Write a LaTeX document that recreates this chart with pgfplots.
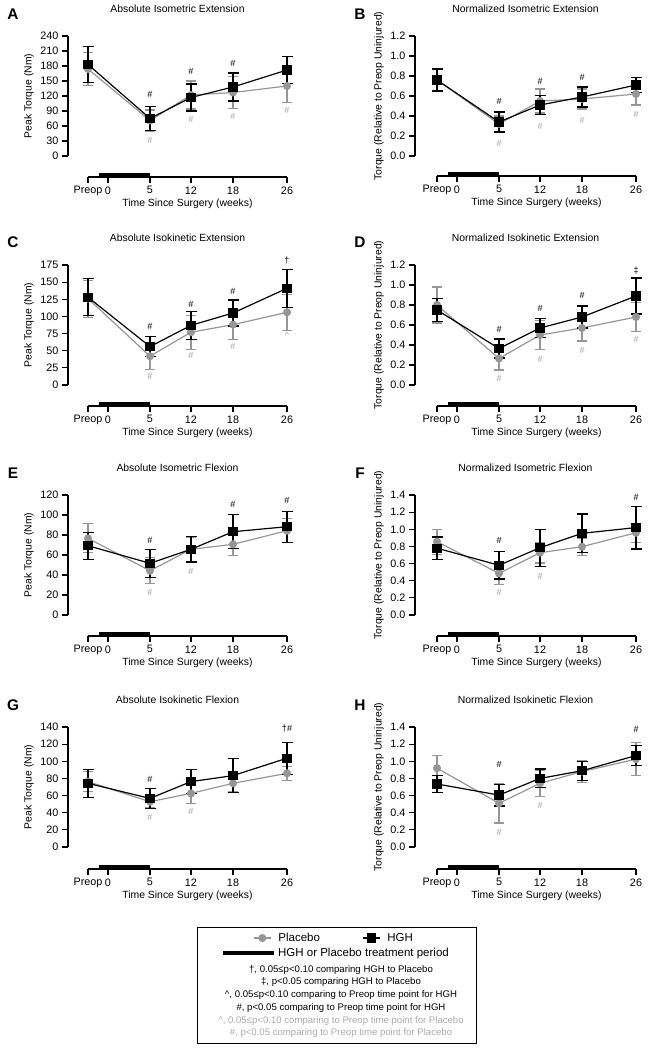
\documentclass[border=0pt]{standalone}
\usepackage{pgfplots}
\pgfplotsset{compat=1.18}
\usepackage{fontspec}
\setmainfont{Liberation Sans}
\definecolor{pbo}{HTML}{969696}
\definecolor{pbotxt}{HTML}{A2A2A2}
\definecolor{lite}{HTML}{ABABAB}

\newcommand{\fnt}{\fontsize{10.4}{12}\selectfont}
\newcommand{\tfnt}{\fontsize{10.8}{12}\selectfont}
\pgfplotsset{
  /pgf/number format/assume math mode=true,
  common/.style={
    scale only axis, height=120pt, ymin=0, clip=false,
    axis x line=none, axis y line*=left,
    tick align=outside, major tick length=6pt,
    every tick/.style={black, line width=1.1pt},
    axis line style={line width=1.1pt},
    tick label style={font=\tfnt},
    label style={font=\fnt},
    title style={font=\fnt, at={(axis description cs:0.5,1.175)}, anchor=center},
  },
  panelL/.style={common, width=219pt, xmin=-20, xmax=199,
    ylabel style={at={(axis description cs:-0.178,0.5)}, anchor=center}},
  panelR/.style={common, width=221pt, xmin=-22, xmax=199,
    ylabel style={at={(axis description cs:-0.163,0.5)}, anchor=center},
    yticklabel style={/pgf/number format/.cd, fixed, fixed zerofill, precision=1}},
  placebo/.style={color=pbo, line width=1.2pt, mark=*, mark size=3.4pt,
    error bars/y dir=both, error bars/y explicit,
    error bars/error bar style={line width=1.1pt},
    error bars/error mark options={rotate=90, mark size=5pt, line width=1.1pt}},
  hgh/.style={color=black, line width=1.2pt, mark=square*, mark size=4pt,
    error bars/y dir=both, error bars/y explicit,
    error bars/error bar style={line width=1.1pt},
    error bars/error mark options={rotate=90, mark size=5.5pt, line width=1.1pt}},
}
\tikzset{
  sigk/.style={font=\fontsize{9}{10}\selectfont, text=black, inner sep=0pt},
  sigg/.style={font=\fontsize{9}{10}\selectfont, text=pbotxt, inner sep=0pt},
  letter/.style={font=\fontsize{15.4}{16}\selectfont\bfseries, inner sep=0pt},
}

% time axis below each panel: #1 = x of Preop, #2 = y of axis line
\newcommand{\timeaxis}[2]{%
  \begin{axis}[scale only axis, width=199pt, height=10pt, at={(#1pt,#2pt)},
    xmin=0, xmax=199, ymin=0, ymax=10, clip=false,
    axis y line=none, axis x line*=bottom,
    axis line style={line width=1.1pt},
    tick align=outside, major tick length=6pt,
    every tick/.style={black, line width=1.1pt},
    xtick={0,20,62,103,145,199}, xticklabels={Preop,0,5,12,18,26},
    tick label style={font=\tfnt}, label style={font=\fnt},
    xlabel={Time Since Surgery (weeks)},
    xlabel style={at={(axis description cs:0.5,0)}, anchor=center, yshift=-27pt}]
    \addplot[black, line width=4.3pt, forget plot] coordinates {(11,2.3) (62,2.3)};
  \end{axis}}

\begin{document}
\begin{tikzpicture}
\useasboundingbox (0,0) rectangle (649pt,-1050pt);

%% A
\node[letter] at (13pt,-14pt) {A};
\begin{axis}[panelL, at={(68pt,-156pt)}, ymax=240, ytick={0,30,...,240},
  ylabel={Peak Torque (Nm)}, title={Absolute Isometric Extension}]
\addplot[placebo] coordinates {(0,174) +- (0,33) (62,71) +- (0,21) (103,122) +- (0,28) (145,127) +- (0,32) (199,140) +- (0,33)};
\addplot[hgh] coordinates {(0,183) +- (0,36) (62,75) +- (0,24) (103,117) +- (0,27) (145,138) +- (0,28) (199,172) +- (0,27)};
\node[sigk] at (axis cs:62,123) {\#};
\node[sigk] at (axis cs:103,169) {\#};
\node[sigk] at (axis cs:145,185) {\#};
\node[sigg] at (axis cs:62,32) {\#};
\node[sigg] at (axis cs:103,74) {\#};
\node[sigg] at (axis cs:145,79) {\#};
\node[sigg] at (axis cs:199,92) {\#};
\end{axis}
\timeaxis{88}{-177}

%% B
\node[letter] at (360pt,-14pt) {B};
\begin{axis}[panelR, at={(415pt,-156pt)}, ymax=1.2, ytick={0,0.2,0.4,0.6,0.8,1.0,1.2},
  ylabel={Torque (Relative to Preop Uninjured)}, title={Normalized Isometric Extension}]
\addplot[placebo] coordinates {(0,0.76) +- (0,0.11) (62,0.32) +- (0,0.08) (103,0.55) +- (0,0.12) (145,0.57) +- (0,0.10) (199,0.62) +- (0,0.11)};
\addplot[hgh] coordinates {(0,0.76) +- (0,0.11) (62,0.34) +- (0,0.10) (103,0.51) +- (0,0.095) (145,0.59) +- (0,0.10) (199,0.71) +- (0,0.075)};
\node[sigk] at (axis cs:62,0.55) {\#};
\node[sigk] at (axis cs:103,0.75) {\#};
\node[sigk] at (axis cs:145,0.79) {\#};
\node[sigg] at (axis cs:62,0.125) {\#};
\node[sigg] at (axis cs:103,0.30) {\#};
\node[sigg] at (axis cs:145,0.36) {\#};
\node[sigg] at (axis cs:199,0.42) {\#};
\end{axis}
\timeaxis{437}{-176}

%% C
\node[letter] at (13pt,-242pt) {C};
\begin{axis}[panelL, at={(68pt,-385pt)}, ymax=175, ytick={0,25,...,175},
  ylabel={Peak Torque (Nm)}, title={Absolute Isokinetic Extension}]
\addplot[placebo] coordinates {(0,126) +- (0,27) (62,42) +- (0,19) (103,77) +- (0,25) (145,88) +- (0,22) (199,106) +- (0,26)};
\addplot[hgh] coordinates {(0,128) +- (0,27) (62,56) +- (0,15) (103,87) +- (0,20) (145,105) +- (0,19) (199,141) +- (0,28)};
\node[sigk] at (axis cs:62,85) {\#};
\node[sigk] at (axis cs:103,118) {\#};
\node[sigk] at (axis cs:145,137) {\#};
\node[sigk] at (axis cs:199,181) {†};
\node[sigg] at (axis cs:62,12) {\#};
\node[sigg] at (axis cs:103,43) {\#};
\node[sigg] at (axis cs:145,56) {\#};
\node[sigg] at (axis cs:199,72) {\textasciicircum};
\end{axis}
\timeaxis{88}{-406}

%% D
\node[letter] at (360pt,-242pt) {D};
\begin{axis}[panelR, at={(415pt,-385pt)}, ymax=1.2, ytick={0,0.2,0.4,0.6,0.8,1.0,1.2},
  ylabel={Torque (Relative to Preop Uninjured)}, title={Normalized Isokinetic Extension}]
\addplot[placebo] coordinates {(0,0.80) +- (0,0.18) (62,0.265) +- (0,0.115) (103,0.50) +- (0,0.145) (145,0.57) +- (0,0.13) (199,0.68) +- (0,0.145)};
\addplot[hgh] coordinates {(0,0.75) +- (0,0.115) (62,0.365) +- (0,0.095) (103,0.57) +- (0,0.095) (145,0.68) +- (0,0.11) (199,0.89) +- (0,0.18)};
\node[sigk] at (axis cs:62,0.56) {\#};
\node[sigk] at (axis cs:103,0.77) {\#};
\node[sigk] at (axis cs:145,0.895) {\#};
\node[sigk] at (axis cs:199,1.14) {‡};
\node[sigg] at (axis cs:62,0.066) {\#};
\node[sigg] at (axis cs:103,0.26) {\#};
\node[sigg] at (axis cs:145,0.35) {\#};
\node[sigg] at (axis cs:199,0.46) {\#};
\end{axis}
\timeaxis{437}{-406}

%% E
\node[letter] at (13pt,-473pt) {E};
\begin{axis}[panelL, at={(68pt,-615pt)}, ymax=120, ytick={0,20,...,120},
  ylabel={Peak Torque (Nm)}, title={Absolute Isometric Flexion}]
\addplot[placebo] coordinates {(0,76.7) +- (0,14.5) (62,44.3) +- (0,13) (103,65.7) +- (0,12) (145,70.7) +- (0,11) (199,84.3) +- (0,12)};
\addplot[hgh] coordinates {(0,69.3) +- (0,13.5) (62,51.7) +- (0,14) (103,65.7) +- (0,12.7) (145,83.3) +- (0,17) (199,88.3) +- (0,15.5)};
\node[sigk] at (axis cs:62,74.3) {\#};
\node[sigk] at (axis cs:145,111) {\#};
\node[sigk] at (axis cs:199,114.3) {\#};
\node[sigg] at (axis cs:62,22.3) {\#};
\node[sigg] at (axis cs:103,44) {\#};
\end{axis}
\timeaxis{88}{-636}

%% F
\node[letter] at (360pt,-473pt) {F};
\begin{axis}[panelR, at={(415pt,-615pt)}, ymax=1.4, ytick={0,0.2,0.4,0.6,0.8,1.0,1.2,1.4},
  ylabel={Torque (Relative to Preop Uninjured)}, title={Normalized Isometric Flexion}]
\addplot[placebo] coordinates {(0,0.855) +- (0,0.145) (62,0.486) +- (0,0.13) (103,0.727) +- (0,0.12) (145,0.797) +- (0,0.10) (199,0.96) +- (0,0.11)};
\addplot[hgh] coordinates {(0,0.78) +- (0,0.13) (62,0.58) +- (0,0.16) (103,0.785) +- (0,0.215) (145,0.953) +- (0,0.225) (199,1.02) +- (0,0.25)};
\node[sigk] at (axis cs:62,0.875) {\#};
\node[sigk] at (axis cs:199,1.37) {\#};
\node[sigg] at (axis cs:62,0.26) {\#};
\node[sigg] at (axis cs:103,0.455) {\#};
\end{axis}
\timeaxis{437}{-636}

%% G
\node[letter] at (13pt,-705pt) {G};
\begin{axis}[panelL, at={(68pt,-847pt)}, ymax=140, ytick={0,20,...,140},
  ylabel={Peak Torque (Nm)}, title={Absolute Isokinetic Flexion}]
\addplot[placebo] coordinates {(0,76.3) +- (0,12) (62,52.8) +- (0,7) (103,62.6) +- (0,12) (145,74.3) +- (0,10) (199,86) +- (0,8)};
\addplot[hgh] coordinates {(0,74.3) +- (0,16.4) (62,56.7) +- (0,11.7) (103,76.3) +- (0,13.7) (145,83.3) +- (0,20) (199,103.6) +- (0,18.6)};
\node[sigk] at (axis cs:62,79) {\#};
\node[sigk] at (axis cs:199,137.7) {†\#};
\node[sigg] at (axis cs:62,34) {\#};
\node[sigg] at (axis cs:103,41) {\#};
\end{axis}
\timeaxis{88}{-869}

%% H
\node[letter] at (360pt,-705pt) {H};
\begin{axis}[panelR, at={(415pt,-847pt)}, ymax=1.4, ytick={0,0.2,0.4,0.6,0.8,1.0,1.2,1.4},
  ylabel={Torque (Relative to Preop Uninjured)}, title={Normalized Isokinetic Flexion}]
\addplot[placebo] coordinates {(0,0.92) +- (0,0.145) (62,0.51) +- (0,0.23) (103,0.743) +- (0,0.15) (145,0.88) +- (0,0.13) (199,1.025) +- (0,0.19)};
\addplot[hgh] coordinates {(0,0.735) +- (0,0.095) (62,0.606) +- (0,0.127) (103,0.80) +- (0,0.11) (145,0.89) +- (0,0.11) (199,1.067) +- (0,0.117)};
\node[sigk] at (axis cs:62,0.958) {\#};
\node[sigk] at (axis cs:199,1.37) {\#};
\node[sigg] at (axis cs:62,0.176) {\#};
\node[sigg] at (axis cs:103,0.49) {\#};
\end{axis}
\timeaxis{437}{-869}

%% legend box
\draw[line width=0.8pt] (197pt,-927pt) rectangle (476pt,-1043pt);
\begin{axis}[hide axis, scale only axis, width=10pt, height=10pt, at={(334pt,-938pt)}, anchor=center,
  xmin=0, xmax=1, ymin=0, ymax=1, legend columns=2,
  legend style={at={(0.5,0.5)}, anchor=center, draw=none, fill=none,
    font=\fontsize{11.5}{13}\selectfont, inner sep=0pt,
    /tikz/every odd column/.append style={column sep=5pt},
    /tikz/every even column/.append style={column sep=40pt}}]
\addlegendimage{placebo}
\addlegendentry{Placebo}
\addlegendimage{hgh}
\addlegendentry{HGH}
\end{axis}
\begin{axis}[hide axis, scale only axis, width=10pt, height=10pt, at={(336pt,-953pt)}, anchor=center,
  xmin=0, xmax=1, ymin=0, ymax=1,
  legend style={at={(0.5,0.5)}, anchor=center, draw=none, fill=none,
    font=\fontsize{11.5}{13}\selectfont, inner sep=0pt}]
\addlegendimage{legend image code/.code={\draw[line width=4pt] (0pt,0pt) -- (51pt,0pt);}}
\addlegendentry{HGH or Placebo treatment period}
\end{axis}
\node[align=center, font=\fontsize{9.6}{12.7}\selectfont, inner sep=0pt] at (341pt,-1001.5pt)
  {†, 0.05≤p<0.10 comparing HGH to Placebo\\
   ‡, p<0.05 comparing HGH to Placebo\\
   \textasciicircum, 0.05≤p<0.10 comparing to Preop time point for HGH\\
   \#, p<0.05 comparing to Preop time point for HGH\\
   \textcolor{lite}{\textasciicircum, 0.05≤p<0.10 comparing to Preop time point for Placebo}\\
   \textcolor{lite}{\#, p<0.05 comparing to Preop time point for Placebo}};
\end{tikzpicture}
\end{document}
